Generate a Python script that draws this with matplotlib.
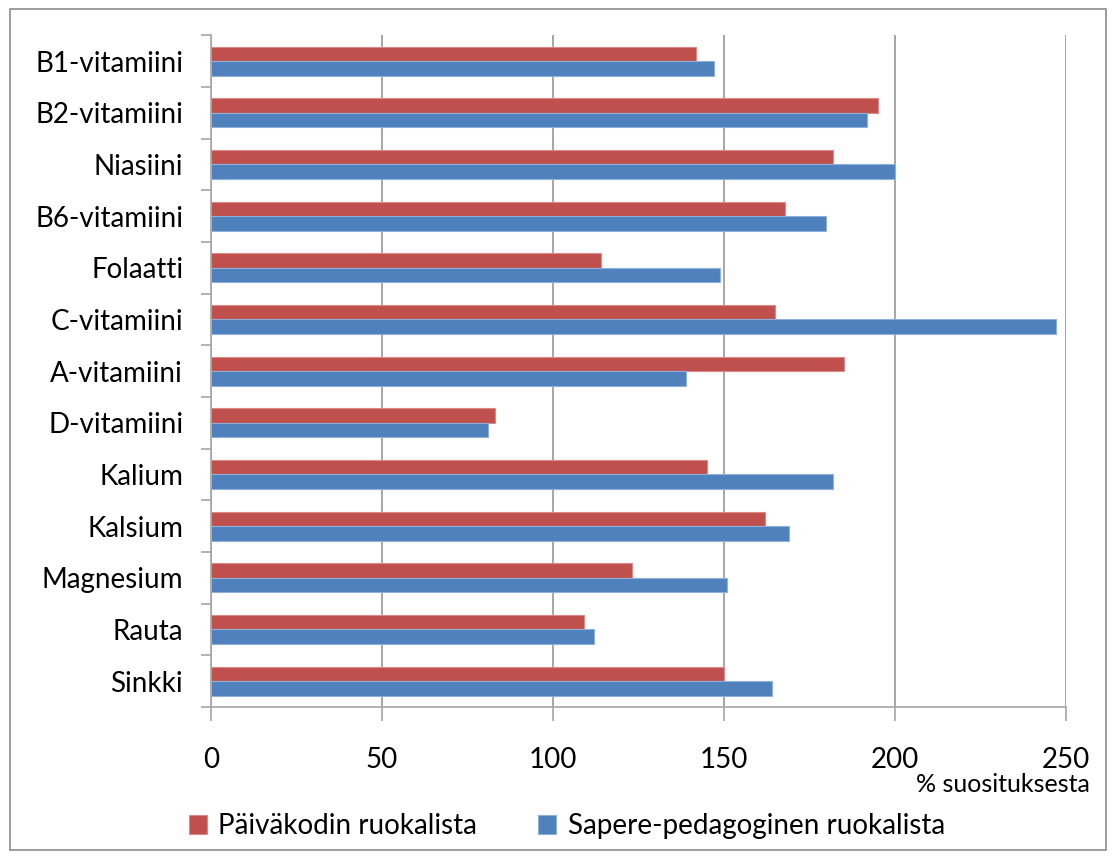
import matplotlib.pyplot as plt
import matplotlib.patches as patches
from matplotlib.ticker import FixedLocator
import numpy as np

plt.rcParams['font.family'] = ['Lato', 'DejaVu Sans']

nutrients = ['B1-vitamiini', 'B2-vitamiini', 'Niasiini', 'B6-vitamiini', 'Folaatti',
             'C-vitamiini', 'A-vitamiini', 'D-vitamiini', 'Kalium', 'Kalsium',
             'Magnesium', 'Rauta', 'Sinkki']
paivakoti = [142, 195, 182, 168, 114, 165, 185, 83, 145, 162, 123, 109, 150]
sapere = [147, 192, 200, 180, 149, 247, 139, 81, 182, 169, 151, 112, 164]
series_names = ['Päiväkodin ruokalista', 'Sapere-pedagoginen ruokalista']
x_ticks = [0, 50, 100, 150, 200, 250]

RED = '#C0504D'
BLUE = '#4F81BD'
GRID = '#A6A6A6'

fig = plt.figure(figsize=(11.16, 8.59), dpi=100)
ax = fig.add_axes([0.189, 0.177, 0.766, 0.782])

# outer frame around the whole chart
fig.patches.append(patches.Rectangle((0.009, 0.011), 0.982, 0.979, transform=fig.transFigure,
                                     fill=False, edgecolor='#8C8C8C', lw=1.2))

y = np.arange(len(nutrients))
h = 0.28
ax.barh(y - h / 2, paivakoti, height=h, color=RED, edgecolor='#D98A88', lw=0.8,
        label=series_names[0], zorder=3)
ax.barh(y + h / 2, sapere, height=h, color=BLUE, edgecolor='#8FB0D8', lw=0.8,
        label=series_names[1], zorder=3)

ax.set_ylim(len(nutrients) - 0.5, -0.5)
ax.set_xlim(0, 250)

ax.set_yticks(y)
ax.set_yticklabels(nutrients, fontsize=20)
ax.yaxis.set_minor_locator(FixedLocator(np.arange(-0.5, len(nutrients), 1.0)))
ax.tick_params(axis='y', which='major', length=0, pad=20)
ax.tick_params(axis='y', which='minor', length=7, color=GRID, width=1.2)

ax.set_xticks(x_ticks)
ax.set_xticklabels([str(v) for v in x_ticks], fontsize=20)
ax.tick_params(axis='x', length=10, color=GRID, width=1.2, pad=19)

ax.grid(axis='x', color=GRID, lw=1.4, zorder=0)
for side in ['top', 'right']:
    ax.spines[side].set_visible(False)
for side in ['left', 'bottom']:
    ax.spines[side].set_color(GRID)
    ax.spines[side].set_linewidth(1.2)

fig.text(0.977, 1 - 785 / 859, '% suosituksesta', ha='right', va='center', fontsize=18)

fig.legend(loc='center', bbox_to_anchor=(0.508, 1 - 826 / 859), ncol=2, frameon=False,
           fontsize=20, handlelength=0.65, handleheight=0.65, columnspacing=2.2,
           handletextpad=0.4)

fig.savefig('out.png', dpi=100)
